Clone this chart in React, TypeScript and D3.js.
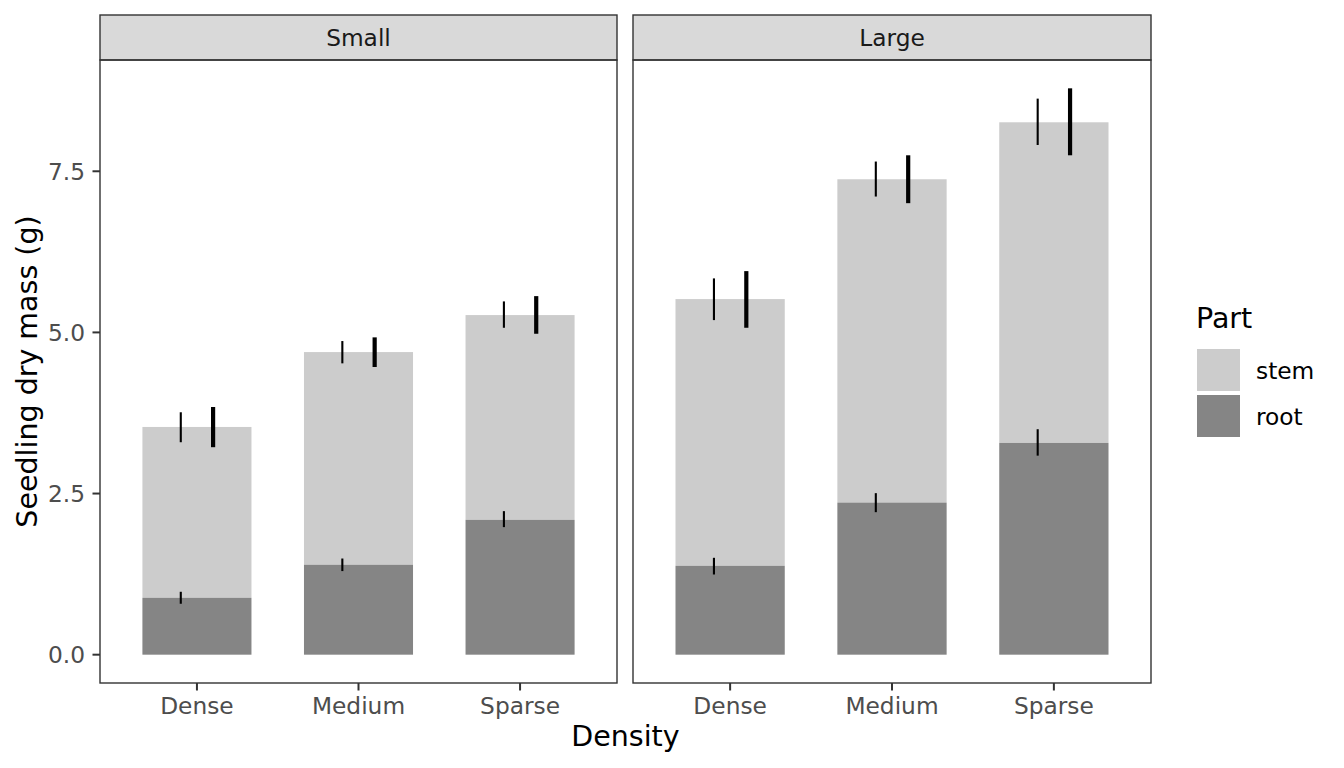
import React from "react";
import * as d3 from "d3";

const densities = ["Dense", "Medium", "Sparse"];
const sizes = ["Small", "Large"];
const parts = ["stem", "root"];
const yTicks = [0, 2.5, 5, 7.5];

// index: size * 3 + density
const rootMean = [0.883, 1.395, 2.092, 1.379, 2.36, 3.285];
const rootLo = [0.79, 1.297, 1.979, 1.244, 2.211, 3.088];
const rootHi = [0.976, 1.492, 2.227, 1.503, 2.506, 3.498];
const totalMean = [3.533, 4.695, 5.269, 5.517, 7.376, 8.26];
const stemThinLo = [3.296, 4.52, 5.072, 5.191, 7.108, 7.908];
const stemThinHi = [3.761, 4.866, 5.481, 5.838, 7.651, 8.627];
const stemThickLo = [3.219, 4.463, 4.979, 5.072, 7.005, 7.748];
const stemThickHi = [3.843, 4.923, 5.563, 5.951, 7.748, 8.787];

const partColors = ["#CCCCCC", "#858585"];

const W = 1344;
const H = 768;
const panelTop = 60;
const panelBottom = 683;
const stripTop = 15;
const panels = [
  { x0: 100, x1: 617 },
  { x0: 633, x1: 1151 },
];
const font = "DejaVu Sans";
const smallFont = 23.3;
const titleFont = 28.5;

export default function App() {
  const yMax = d3.max(stemThickHi) as number;
  const pad = yMax * 0.05;
  const y = d3.scaleLinear().domain([-pad, yMax + pad]).range([panelBottom, panelTop]);

  return (
    <svg width={W} height={H} style={{ position: "absolute", left: 0, top: 0 }} fontFamily={font}>
      <rect width={W} height={H} fill="white" />
      {panels.map((p, si) => {
        const x = d3.scaleLinear().domain([0.4, 3.6]).range([p.x0, p.x1]);
        const unit = x(1) - x(0);
        const bw = 0.675 * unit;
        const dodge = 0.1 * unit;
        return (
          <g key={si}>
            {/* strip */}
            <rect x={p.x0} y={stripTop} width={p.x1 - p.x0} height={panelTop - stripTop} fill="#D9D9D9" stroke="#333333" strokeWidth={1.4} />
            <text x={(p.x0 + p.x1) / 2} y={45.7} textAnchor="middle" fontSize={smallFont} fill="#1A1A1A">{sizes[si]}</text>
            {/* bars */}
            {densities.map((d, di) => {
              const i = si * 3 + di;
              const cx = x(di + 1);
              return (
                <g key={d}>
                  <rect x={cx - bw / 2} y={y(totalMean[i])} width={bw} height={y(rootMean[i]) - y(totalMean[i])} fill={partColors[0]} />
                  <rect x={cx - bw / 2} y={y(rootMean[i])} width={bw} height={y(0) - y(rootMean[i])} fill={partColors[1]} />
                </g>
              );
            })}
            {densities.map((d, di) => {
              const i = si * 3 + di;
              const cx = x(di + 1);
              return (
                <g key={"e" + d} stroke="black">
                  <line x1={cx - dodge} x2={cx - dodge} y1={y(stemThinLo[i])} y2={y(stemThinHi[i])} strokeWidth={2.1} />
                  <line x1={cx + dodge} x2={cx + dodge} y1={y(stemThickLo[i])} y2={y(stemThickHi[i])} strokeWidth={4.2} />
                  <line x1={cx - dodge} x2={cx - dodge} y1={y(rootLo[i])} y2={y(rootHi[i])} strokeWidth={2.1} />
                </g>
              );
            })}
            {/* border */}
            <rect x={p.x0} y={panelTop} width={p.x1 - p.x0} height={panelBottom - panelTop} fill="none" stroke="#333333" strokeWidth={1.4} />
            {/* x ticks */}
            {densities.map((d, di) => (
              <g key={"t" + d}>
                <line x1={x(di + 1)} x2={x(di + 1)} y1={panelBottom} y2={panelBottom + 7.5} stroke="#333333" strokeWidth={2} />
                <text x={x(di + 1)} y={714} textAnchor="middle" fontSize={smallFont} fill="#4D4D4D">{d}</text>
              </g>
            ))}
            {si === 0 &&
              yTicks.map((t) => (
                <g key={"y" + t}>
                  <line x1={92.5} x2={p.x0} y1={y(t)} y2={y(t)} stroke="#333333" strokeWidth={2} />
                  <text x={85} y={y(t)} dy="0.36em" textAnchor="end" fontSize={smallFont} fill="#4D4D4D">{d3.format(".1f")(t)}</text>
                </g>
              ))}
          </g>
        );
      })}
      {/* axis titles */}
      <text x={(panels[0].x0 + panels[1].x1) / 2} y={746} textAnchor="middle" fontSize={titleFont} fill="black">Density</text>
      <text transform={`translate(37,${(panelTop + panelBottom) / 2}) rotate(-90)`} textAnchor="middle" fontSize={titleFont} fill="black">Seedling dry mass (g)</text>
      {/* legend */}
      <text x={1196} y={328} fontSize={titleFont} fill="black">Part</text>
      {parts.map((pt, k) => (
        <g key={pt}>
          <rect x={1197} y={349 + k * 46} width={43} height={42} fill={partColors[k]} />
          <text x={1256} y={379 + k * 45.5} fontSize={smallFont} fill="black">{pt}</text>
        </g>
      ))}
    </svg>
  );
}
